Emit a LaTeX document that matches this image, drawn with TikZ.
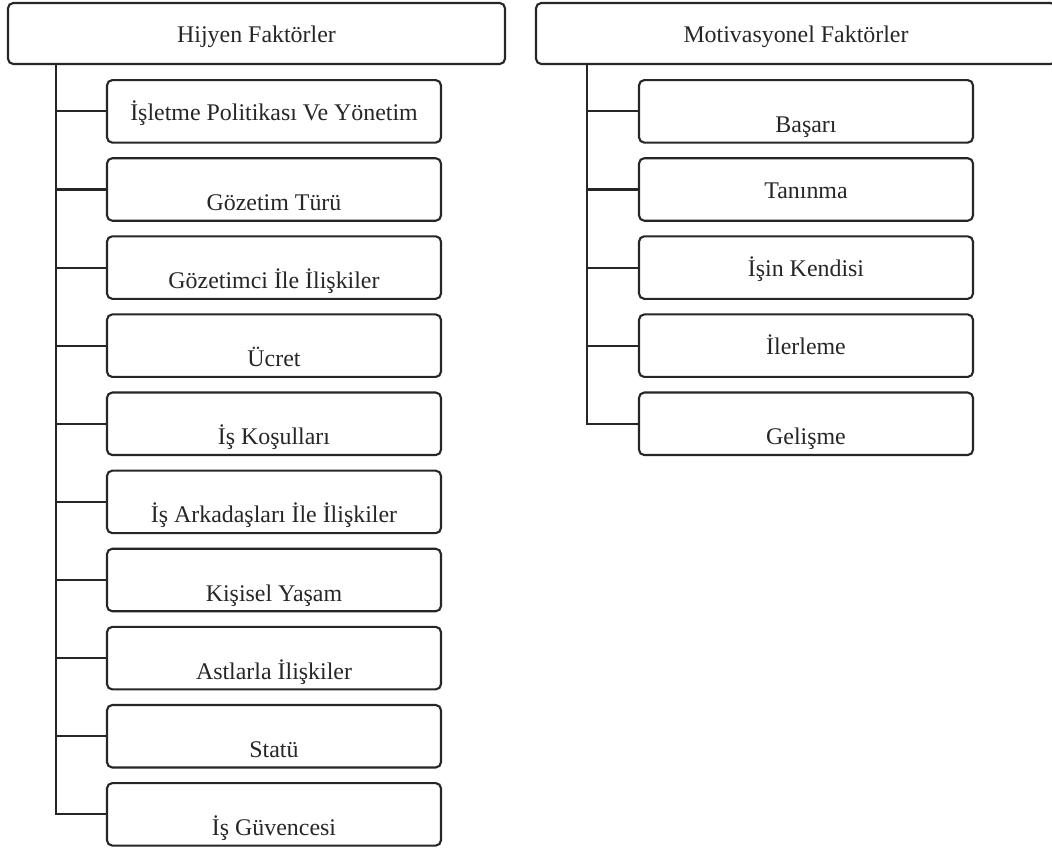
\documentclass[tikz,border=0pt]{standalone}
\usepackage{fontspec}
\setmainfont{Liberation Serif}
\usetikzlibrary{positioning}

\begin{document}
\begin{tikzpicture}[
      header/.style={
        rectangle,
        draw=black!85,
        line width=1.2pt,
        rounded corners=3pt,
        minimum height=1.22cm,
        text=black!85,
        font=\fontsize{13.6}{16.3}\selectfont,
        text height=0.45cm,
        text depth=0.08cm
      },
      item/.style={header,minimum width=6.68cm,minimum height=1.25cm,inner sep=0pt},
      low/.style={text height=0.92cm},
      link/.style={draw=black!85,line width=1.2pt}
    ]
    \clip (0,0) rectangle (21.04,-16.94);

    % Hygiene factors
    \node[header,minimum width=9.94cm] (hyg) at (5.13,-0.67) {Hijyen Faktörler};
    \node[item,below right=0.28cm and 1.98cm of hyg.south west] (h1) {İşletme Politikası Ve Yönetim};
    \node[item,low,below=0.27cm of h1] (h2) {Gözetim Türü};
    \node[item,low,below=0.27cm of h2] (h3) {Gözetimci İle İlişkiler};
    \node[item,low,below=0.27cm of h3] (h4) {Ücret};
    \node[item,low,below=0.27cm of h4] (h5) {İş Koşulları};
    \node[item,low,below=0.27cm of h5] (h6) {İş Arkadaşları İle İlişkiler};
    \node[item,low,below=0.27cm of h6] (h7) {Kişisel Yaşam};
    \node[item,low,below=0.27cm of h7] (h8) {Astlarla İlişkiler};
    \node[item,low,below=0.27cm of h8] (h9) {Statü};
    \node[item,low,below=0.27cm of h9] (h10) {İş Güvencesi};

    % Motivation factors
    \node[header,minimum width=10.4cm] (mot) at (15.92,-0.67) {Motivasyonel Faktörler};
    \node[item,low,below right=0.28cm and 2.06cm of mot.south west] (m1) {Başarı};
    \node[item,below=0.27cm of m1] (m2) {Tanınma};
    \node[item,below=0.27cm of m2] (m3) {İşin Kendisi};
    \node[item,below=0.27cm of m3] (m4) {İlerleme};
    \node[item,low,below=0.27cm of m4] (m5) {Gelişme};

    % Trunks and branches
    \coordinate (trunkL) at ([xshift=0.98cm]hyg.south west);
    \coordinate (trunkR) at ([xshift=1.04cm]mot.south west);

    \draw[link] (trunkL) |- (h10.west);
    \draw[link] (h1.west) -- (h1.west -| trunkL);
    \draw[link] (h2.west) -- (h2.west -| trunkL);
    \draw[link] (h3.west) -- (h3.west -| trunkL);
    \draw[link] (h4.west) -- (h4.west -| trunkL);
    \draw[link] (h5.west) -- (h5.west -| trunkL);
    \draw[link] (h6.west) -- (h6.west -| trunkL);
    \draw[link] (h7.west) -- (h7.west -| trunkL);
    \draw[link] (h8.west) -- (h8.west -| trunkL);
    \draw[link] (h9.west) -- (h9.west -| trunkL);

    \draw[link] (trunkR) |- (m5.west);
    \draw[link] (m1.west) -- (m1.west -| trunkR);
    \draw[link] (m2.west) -- (m2.west -| trunkR);
    \draw[link] (m3.west) -- (m3.west -| trunkR);
    \draw[link] (m4.west) -- (m4.west -| trunkR);
  \end{tikzpicture}
\end{document}
